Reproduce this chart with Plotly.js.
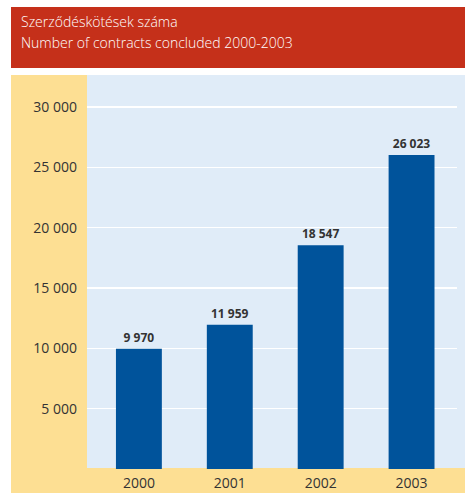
<!DOCTYPE html>
<html><head><meta charset="utf-8">
<script src="https://cdn.plot.ly/plotly-3.0.1.min.js"></script>
<style>html,body{margin:0;padding:0;background:#fff}#chart{width:467px;height:493px}</style>
</head><body><div id="chart"></div>
<script>
var years = ['2000', '2001', '2002', '2003'];
var contracts = [9970, 11959, 18547, 26023];
var barLabels = ['9 970', '11 959', '18 547', '26 023'];
var yTickVals = [5000, 10000, 15000, 20000, 25000, 30000];
var yTickText = ['5 000', '10 000', '15 000', '20 000', '25 000', '30 000'];
var titleLines = ['Szerződéskötések száma', 'Number of contracts concluded 2000-2003'];

var L = 87, R = 457, T = 75, B = 469, W = 467, H = 493;
function px(x){ return (x - L) / (R - L); }
function py(y){ return (B - y) / (B - T); }

var trace = {
  type: 'bar', x: years, y: contracts, text: barLabels,
  textposition: 'outside', cliponaxis: false,
  textfont: {family: 'Open Sans, sans-serif', size: 12, color: '#333333', weight: 700},
  marker: {color: '#00539B'}, width: 0.505, hoverinfo: 'none'
};

var layout = {
  width: W, height: H,
  margin: {l: L, r: W - R, t: T, b: H - B, pad: 0},
  paper_bgcolor: '#ffffff', plot_bgcolor: 'rgba(0,0,0,0)',
  showlegend: false,
  font: {family: 'Open Sans, sans-serif'},
  xaxis: {
    type: 'category', range: [-0.571, 3.5], showgrid: false, zeroline: false,
    showline: false, ticks: '', ticklabelstandoff: 4,
    tickfont: {size: 14, color: '#333333'}, fixedrange: true
  },
  yaxis: {
    range: [0, 32650], tickvals: yTickVals, ticktext: yTickText,
    showgrid: true, gridcolor: '#ffffff', gridwidth: 1.5, zeroline: false,
    showline: false, ticks: '', ticklabelstandoff: 9,
    tickfont: {size: 14, color: '#333333'}, fixedrange: true
  },
  shapes: [
    {type: 'rect', xref: 'paper', yref: 'paper', x0: px(11), x1: px(465), y0: py(68), y1: py(7), fillcolor: '#C5301A', line: {width: 0}, layer: 'below'},
    {type: 'rect', xref: 'paper', yref: 'paper', x0: px(11), x1: px(465), y0: py(493), y1: py(75), fillcolor: '#FDDF93', line: {width: 0}, layer: 'below'},
    {type: 'rect', xref: 'paper', yref: 'paper', x0: px(87), x1: px(465), y0: py(468), y1: py(75), fillcolor: '#E0ECF8', line: {width: 0}, layer: 'below'}
  ],
  annotations: [
    {xref: 'paper', yref: 'paper', x: px(19), y: py(22), xanchor: 'left', yanchor: 'middle', showarrow: false,
     text: titleLines[0], font: {size: 14, color: '#ffffff', family: 'Open Sans, sans-serif', weight: 300}},
    {xref: 'paper', yref: 'paper', x: px(19), y: py(43), xanchor: 'left', yanchor: 'middle', showarrow: false,
     text: titleLines[1], font: {size: 14, color: '#ffffff', family: 'Open Sans, sans-serif', weight: 300}}
  ]
};

Plotly.newPlot('chart', [trace], layout, {displayModeBar: false, staticPlot: true});
</script></body></html>
